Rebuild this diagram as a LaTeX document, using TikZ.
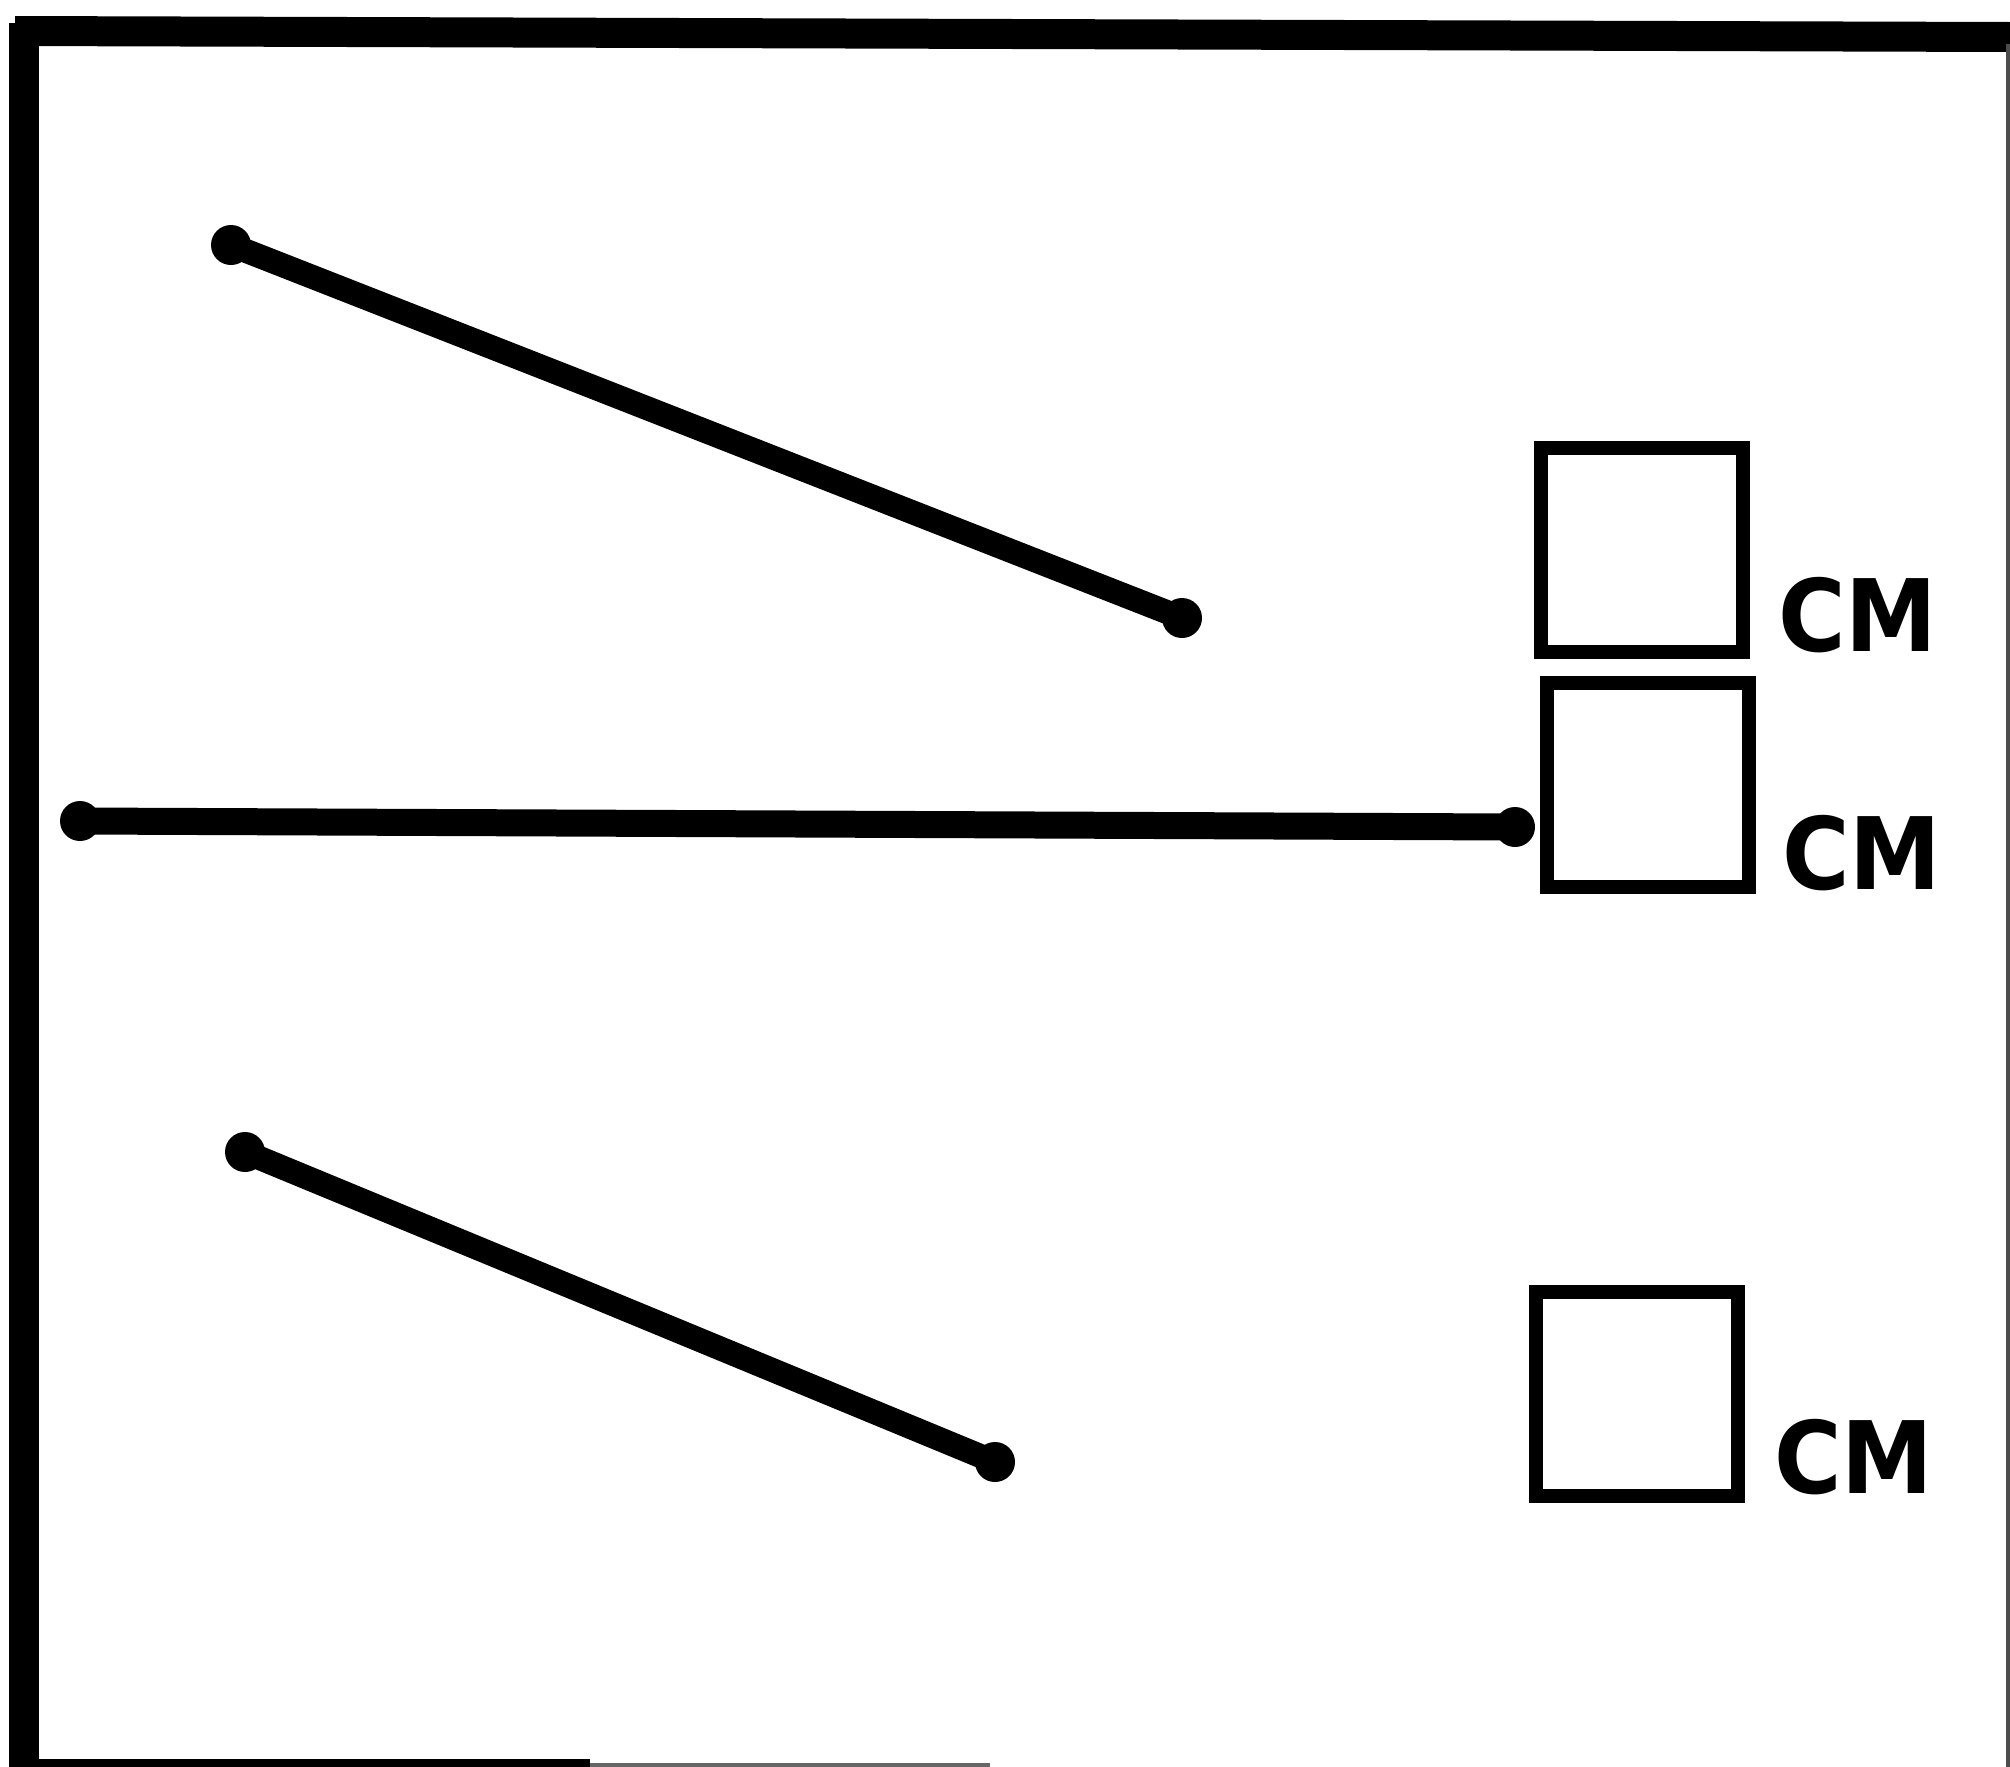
\documentclass[tikz,border=0pt]{standalone}
\usepackage{fontspec}
\newfontfamily\cmfont[FakeStretch=0.92]{DejaVu Sans Bold}
\begin{document}
\begin{tikzpicture}[x=0.5pt,y=-0.5pt,
  frameline/.style={line width=15pt,line cap=butt},
  rod/.style={line width=12pt,line cap=round},
  hrod/.style={line width=13.5pt,line cap=round},
  endpt/.style={circle,fill=black,inner sep=0pt,minimum size=20pt},
  cmbox/.style={draw,line width=7pt,inner sep=0pt,minimum width=101pt,minimum height=102pt},
  cmlabel/.style={inner sep=0pt,anchor=base west,font=\cmfont\fontsize{50}{50}\selectfont}]
\useasboundingbox (0,0) rectangle (2010,1767);
% frame
\draw[frameline] (15,31) -- (2010,37);
\draw[frameline] (24,23) -- (24,1767);
\draw[line width=5pt] (20,1764) -- (590,1764);
\draw[line width=2pt,black!60] (590,1765) -- (990,1765);
\draw[line width=2.5pt,black!70] (2008,44) -- (2008,1767);
% end points
\node[endpt] (a1) at (231,245) {};
\node[endpt] (a2) at (1182,618) {};
\node[endpt] (b1) at (80,821) {};
\node[endpt] (b2) at (1515,827) {};
\node[endpt] (c1) at (245,1152) {};
\node[endpt] (c2) at (995,1462) {};
% rods
\draw[rod] (a1.center) -- (a2.center);
\draw[hrod] (b1.center) -- (b2.center);
\draw[rod] (c1.center) -- (c2.center);
% boxes
\node[cmbox] (box1) at (1642,550) {};
\node[cmbox] (box2) at (1648,785) {};
\node[cmbox] (box3) at (1637,1394) {};
% labels
\node[cmlabel] (cm1) at (1778,651) {CM};
\node[cmlabel] (cm2) at (1782,889) {CM};
\node[cmlabel] (cm3) at (1774,1493) {CM};
\end{tikzpicture}
\end{document}
